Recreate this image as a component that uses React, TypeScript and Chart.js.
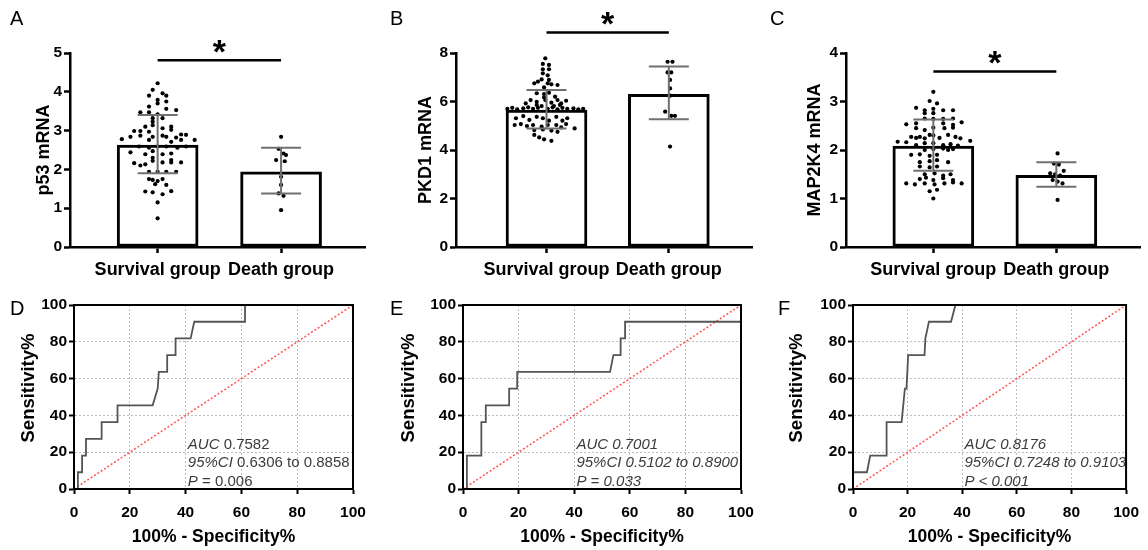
import React, { useEffect, useRef } from 'react';
import { Chart, registerables } from 'chart.js';

Chart.register(...registerables);

const FONT = "Arial, 'Liberation Sans', Helvetica, sans-serif";

const groupLabels = ['Survival group', 'Death group'];

// ---------- Panel A : p53 ----------
const p53Mean = [2.63, 1.94];
const p53SdLow = [1.9, 1.38];
const p53SdHigh = [3.4, 2.56];
const p53Survival = [4.22, 4.05, 3.96, 3.9, 3.9, 3.79, 3.7, 3.75, 3.62, 3.56, 3.53, 3.47, 3.47, 3.42, 3.32, 3.23, 3.14, 3.32, 3.1, 3.02, 3.1, 2.99, 2.99, 3.06, 2.97, 2.84, 2.87, 2.84, 2.87, 2.84, 2.82, 2.9, 2.89, 2.78, 2.76, 2.76, 2.71, 2.76, 2.59, 2.56, 2.59, 2.59, 2.56, 2.59, 2.44, 2.39, 2.47, 2.3, 2.22, 2.39, 2.41, 2.24, 2.18, 2.18, 2.16, 2.1, 2.13, 2.18, 1.94, 1.94, 1.94, 1.94, 1.75, 1.73, 1.7, 1.75, 1.6, 1.62, 1.43, 1.41, 1.36, 1.44, 1.15, 0.74];
const p53SurvivalJitter = [0, -0.04, 0.04, 0.07, -0.07, 0, 0, 0.07, -0.07, 0.07, 0.15, -0.14, -0.07, 0, -0.04, -0.04, -0.04, 0.04, 0.11, 0.11, -0.1, -0.19, -0.14, 0.04, -0.07, -0.22, -0.14, -0.04, 0.04, 0.07, 0.15, 0.19, 0.23, -0.29, 0.3, -0.07, 0.11, 0.19, -0.15, -0.07, 0, 0.07, 0.16, 0.23, -0.22, -0.1, -0.04, -0.04, -0.04, 0.04, 0.11, 0.11, 0.11, 0.19, -0.19, -0.14, -0.1, 0.04, -0.07, 0, 0.07, 0.15, -0.07, -0.04, 0, 0.04, 0.07, -0.02, -0.1, -0.04, 0.04, 0.11, 0, 0];
const p53Death = [2.84, 2.53, 2.41, 2.37, 2.24, 2.21, 1.81, 1.6, 1.38, 1.32, 0.95];
const p53DeathJitter = [0, -0.02, 0.02, 0.04, -0.04, 0.03, 0, 0, -0.02, 0.02, 0];
const p53Sig = 4.81;

// ---------- Panel B : PKD1 ----------
const pkd1Mean = [5.65, 6.3];
const pkd1SdLow = [4.89, 5.27];
const pkd1SdHigh = [6.47, 7.44];
const pkd1Survival = [7.78, 7.55, 7.51, 7.33, 7.33, 7.16, 7.08, 6.91, 6.89, 6.75, 6.82, 6.75, 6.71, 6.68, 6.58, 6.34, 6.31, 6.36, 6.2, 6.17, 6.06, 5.99, 6.06, 5.95, 6.06, 5.92, 6.03, 5.92, 5.86, 5.81, 5.81, 5.86, 5.7, 5.74, 5.68, 5.72, 5.76, 5.7, 5.74, 5.7, 5.76, 5.68, 5.74, 5.7, 5.72, 5.68, 5.7, 5.31, 5.4, 5.24, 5.37, 5.31, 5.21, 5.37, 5.21, 5.31, 5.03, 5.07, 4.99, 5.03, 4.96, 5.03, 5.03, 4.93, 5.07, 4.89, 4.82, 4.85, 4.8, 4.75, 4.62, 4.52, 4.44, 4.38];
const pkd1SurvivalJitter = [-0.01, -0.03, 0.02, -0.03, 0.02, -0.03, 0.01, -0.04, 0.02, -0.1, -0.07, 0.01, 0.04, 0.09, -0.02, -0.08, -0.02, 0.02, 0.07, -0.02, -0.13, -0.08, -0.01, 0.04, 0.09, 0.12, 0.16, -0.17, -0.08, -0.04, 0.06, 0.11, -0.32, -0.28, -0.24, -0.19, -0.15, -0.11, -0.07, 0.01, 0.05, 0.09, 0.13, 0.17, 0.22, 0.26, 0.3, -0.25, -0.19, -0.14, -0.08, -0.03, 0.02, 0.08, 0.13, 0.17, -0.26, -0.21, -0.16, -0.11, -0.04, 0.01, 0.08, 0.12, 0.16, 0.23, -0.1, -0.03, 0.04, 0.09, -0.1, -0.06, -0.02, 0.04];
const pkd1Death = [7.64, 7.64, 7.2, 7.2, 6.89, 6.54, 6.24, 5.58, 5.41, 5.41, 4.14];
const pkd1DeathJitter = [-0.01, 0.03, -0.01, 0.02, 0.01, 0.01, 0.01, -0.03, 0.02, 0.05, 0.01];
const pkd1Sig = 8.85;

// ---------- Panel C : MAP2K4 ----------
const map2k4Mean = [2.08, 1.48];
const map2k4SdLow = [1.57, 1.24];
const map2k4SdHigh = [2.63, 1.75];
const map2k4Survival = [3.2, 3.01, 2.96, 2.87, 2.82, 2.85, 2.82, 2.82, 2.76, 2.76, 2.65, 2.64, 2.64, 2.65, 2.53, 2.55, 2.55, 2.52, 2.57, 2.45, 2.41, 2.46, 2.45, 2.46, 2.27, 2.25, 2.27, 2.24, 2.31, 2.3, 2.25, 2.31, 2.27, 2.24, 2.17, 2.16, 2.1, 2.14, 2.14, 2.1, 2.12, 2.09, 2.19, 2.0, 2.02, 2.03, 2.0, 2.02, 1.9, 1.91, 1.88, 1.9, 1.75, 1.77, 1.79, 1.75, 1.66, 1.64, 1.66, 1.5, 1.52, 1.47, 1.5, 1.4, 1.43, 1.38, 1.42, 1.38, 1.31, 1.29, 1.31, 1.29, 1.31, 1.33, 1.31, 1.15, 1.18, 1.0];
const map2k4SurvivalJitter = [0, -0.03, 0.03, -0.14, -0.07, 0, 0.08, 0.16, -0.07, 0, -0.07, 0, 0.08, 0.16, -0.22, -0.14, 0.08, 0.16, 0.23, -0.14, -0.07, 0, 0.09, 0.16, -0.18, -0.14, -0.11, -0.07, -0.03, 0, 0.05, 0.12, 0.18, 0.22, -0.29, -0.22, -0.14, -0.07, 0, 0.08, 0.14, 0.2, 0.3, -0.07, 0, 0.08, 0.12, 0.16, -0.18, -0.11, -0.03, 0.03, -0.11, -0.03, 0.03, 0.12, -0.11, -0.03, 0.03, -0.07, 0.01, 0.08, 0.14, -0.11, -0.06, 0, 0.08, 0.16, -0.22, -0.15, -0.07, 0.01, 0.09, 0.16, 0.23, -0.03, 0.03, 0];
const map2k4Death = [1.93, 1.72, 1.7, 1.57, 1.52, 1.5, 1.47, 1.38, 1.35, 1.31, 0.97];
const map2k4DeathJitter = [0.01, -0.02, 0.02, 0.06, -0.05, -0.01, 0.03, -0.03, 0.01, 0.05, 0.01];
const map2k4Sig = 3.62;

// ---------- ROC curves ----------
const rocTicks = [0, 20, 40, 60, 80, 100];
const rocDX = [0, 1.4, 1.4, 2.9, 2.9, 4.3, 4.3, 9.9, 9.9, 15.6, 15.6, 28.2, 30.0, 30.4, 33.4, 33.4, 36.4, 36.4, 41.8, 43.1, 61.3, 61.3, 100];
const rocDY = [0, 0, 9.09, 9.09, 18.18, 18.18, 27.27, 27.27, 36.36, 36.36, 45.45, 45.45, 54.55, 63.64, 63.64, 72.73, 72.73, 81.82, 81.82, 90.91, 90.91, 100, 100];
const rocEX = [0, 1.4, 1.4, 6.6, 6.6, 8.2, 8.2, 16.6, 16.6, 19.5, 19.5, 52.9, 54.1, 56.7, 56.7, 58.3, 58.3, 100];
const rocEY = [0, 0, 18.18, 18.18, 36.36, 36.36, 45.45, 45.45, 54.55, 54.55, 63.64, 63.64, 72.73, 72.73, 81.82, 81.82, 90.91, 90.91];
const rocFX = [0, 0, 5.1, 6.3, 12.3, 12.3, 17.8, 19.0, 19.6, 20.2, 26.2, 26.5, 27.8, 35.9, 37.5, 100];
const rocFY = [0, 9.09, 9.09, 18.18, 18.18, 36.36, 36.36, 54.55, 54.55, 72.73, 72.73, 81.82, 90.91, 90.91, 100, 100];

const rocDText = [['AUC', ' 0.7582'], ['95%CI', ' 0.6306 to 0.8858'], ['P', ' = 0.006']];
const rocEText = [['AUC', ' 0.7001'], ['95%CI', ' 0.5102 to 0.8900'], ['P', ' = 0.033']];
const rocFText = [['AUC', ' 0.8176'], ['95%CI', ' 0.7248 to 0.9103'], ['P', ' < 0.001']];
const rocTextRows = [24.1, 14.0, 4.0];

const barPanels = [
  {
    letter: 'A', letterX: 10, letterY: 25,
    left: 0, top: 0, width: 380, height: 285,
    area: { l: 70, t: 53, r: 365, b: 247 }, xMin: 0.29, xMax: 2.68,
    yMax: 5, yStep: 1, yTitle: 'p53 mRNA', titleX: 44,
    means: p53Mean, sdLow: p53SdLow, sdHigh: p53SdHigh,
    survival: p53Survival, survivalJitter: p53SurvivalJitter, death: p53Death, deathJitter: p53DeathJitter,
    sig: p53Sig,
  },
  {
    letter: 'B', letterX: 10, letterY: 25,
    left: 380, top: 0, width: 380, height: 285,
    area: { l: 456, t: 53, r: 752, b: 247 }, xMin: 0.26, xMax: 2.68,
    yMax: 8, yStep: 2, yTitle: 'PKD1 mRNA', titleX: 426,
    means: pkd1Mean, sdLow: pkd1SdLow, sdHigh: pkd1SdHigh,
    survival: pkd1Survival, survivalJitter: pkd1SurvivalJitter, death: pkd1Death, deathJitter: pkd1DeathJitter,
    sig: pkd1Sig,
  },
  {
    letter: 'C', letterX: 10, letterY: 25,
    left: 760, top: 0, width: 388, height: 285,
    area: { l: 846, t: 53, r: 1140, b: 247 }, xMin: 0.29, xMax: 2.68,
    yMax: 4, yStep: 1, yTitle: 'MAP2K4 mRNA', titleX: 815,
    means: map2k4Mean, sdLow: map2k4SdLow, sdHigh: map2k4SdHigh,
    survival: map2k4Survival, survivalJitter: map2k4SurvivalJitter, death: map2k4Death, deathJitter: map2k4DeathJitter,
    sig: map2k4Sig,
  },
];

const rocPanels = [
  { letter: 'D', letterX: 10, letterY: 35, left: 0, top: 280, width: 380, height: 270, area: { l: 74, t: 305, r: 353, b: 489 }, titleX: 29, titleY: 388, xs: rocDX, ys: rocDY, text: rocDText, allItalic: false },
  { letter: 'E', letterX: 10, letterY: 35, left: 380, top: 280, width: 390, height: 270, area: { l: 463, t: 305, r: 741, b: 489 }, titleX: 409, titleY: 388, xs: rocEX, ys: rocEY, text: rocEText, allItalic: true },
  { letter: 'F', letterX: 18, letterY: 35, left: 760, top: 280, width: 388, height: 270, area: { l: 853, t: 305, r: 1128, b: 489 }, titleX: 797, titleY: 388, xs: rocFX, ys: rocFY, text: rocFText, allItalic: true },
];

function BarPanel({ spec }: { spec: any }) {
  const ref = useRef<HTMLCanvasElement | null>(null);
  useEffect(() => {
    const s = spec;
    const W = s.area.l - s.left;
    const H = s.top + s.height - s.area.b;
    const yTitleSize = 18;
    const dots = [
      ...s.survival.map((v: number, i: number) => ({ x: 1 + s.survivalJitter[i], y: v })),
      ...s.death.map((v: number, i: number) => ({ x: 2 + s.deathJitter[i], y: v })),
    ];
    const extras = {
      id: 'barExtras',
      afterDatasetsDraw(chart: any) {
        const { ctx, scales } = chart;
        const x = scales.x;
        const y = scales.y;
        ctx.save();
        ctx.strokeStyle = '#707070';
        ctx.lineWidth = 2;
        s.means.forEach((_m: number, i: number) => {
          const px = x.getPixelForValue(i + 1);
          const top = y.getPixelForValue(s.sdHigh[i]);
          const bot = y.getPixelForValue(s.sdLow[i]);
          ctx.beginPath();
          ctx.moveTo(px, top);
          ctx.lineTo(px, bot);
          ctx.moveTo(px - 20, top);
          ctx.lineTo(px + 20, top);
          ctx.moveTo(px - 20, bot);
          ctx.lineTo(px + 20, bot);
          ctx.stroke();
        });
        const sy = y.getPixelForValue(s.sig);
        const x1 = x.getPixelForValue(1);
        const x2 = x.getPixelForValue(2);
        ctx.strokeStyle = '#000';
        ctx.lineWidth = 2.5;
        ctx.beginPath();
        ctx.moveTo(x1, sy);
        ctx.lineTo(x2, sy);
        ctx.stroke();
        ctx.fillStyle = '#000';
        ctx.font = `bold 34px ${FONT}`;
        ctx.textAlign = 'center';
        ctx.textBaseline = 'alphabetic';
        ctx.fillText('*', (x1 + x2) / 2, sy - 15 + 17.5);
        ctx.restore();
      },
      afterDraw(chart: any) {
        const { ctx } = chart;
        ctx.save();
        ctx.fillStyle = '#000';
        ctx.font = `20px ${FONT}`;
        ctx.textAlign = 'left';
        ctx.textBaseline = 'alphabetic';
        ctx.fillText(s.letter, s.letterX, s.letterY);
        ctx.restore();
      },
    };
    const chart = new Chart(ref.current as HTMLCanvasElement, {
      type: 'bar',
      data: {
        datasets: [
          {
            type: 'scatter',
            data: dots,
            backgroundColor: '#000',
            borderColor: '#000',
            borderWidth: 0,
            pointRadius: 2.1,
            order: 1,
          } as any,
          {
            type: 'bar',
            data: s.means.map((m: number, i: number) => ({ x: i + 1, y: m })),
            backgroundColor: '#fff',
            borderColor: '#000',
            borderWidth: 3,
            borderSkipped: false,
            barThickness: 81,
            order: 2,
          } as any,
        ],
      },
      options: {
        animation: false,
        responsive: false,
        devicePixelRatio: 1,
        events: [],
        layout: { padding: { left: 0, top: s.area.t - s.top, right: s.left + s.width - s.area.r, bottom: 0 } },
        plugins: { legend: { display: false }, tooltip: { enabled: false } },
        scales: {
          x: {
            type: 'linear',
            min: s.xMin,
            max: s.xMax,
            offset: false,
            afterBuildTicks: (axis: any) => {
              axis.ticks = [{ value: 1 }, { value: 2 }];
            },
            afterFit: (axis: any) => {
              axis.height = H;
            },
            ticks: {
              callback: (v: any) => groupLabels[Math.round(v) - 1] ?? '',
              autoSkip: false,
              maxRotation: 0,
              minRotation: 0,
              padding: 6.5,
              color: '#000',
              font: { family: FONT, size: 18, weight: 'bold' },
            },
            grid: { offset: false, drawOnChartArea: false, tickLength: 6, tickWidth: 2.5, tickColor: '#000' },
            border: { color: '#000', width: 2.5 },
          },
          y: {
            type: 'linear',
            min: 0,
            max: s.yMax,
            afterFit: (axis: any) => {
              axis.width = W;
            },
            ticks: {
              stepSize: s.yStep,
              padding: 2,
              color: '#000',
              font: { family: FONT, size: 15.5, weight: 'bold' },
            },
            grid: { drawOnChartArea: false, tickLength: 6, tickWidth: 2.5, tickColor: '#000' },
            border: { color: '#000', width: 2.5 },
            title: {
              display: true,
              text: s.yTitle,
              color: '#000',
              font: { family: FONT, size: yTitleSize, weight: 'bold' },
              padding: { top: s.titleX - s.left - (yTitleSize * 1.2) / 2, bottom: 0 },
            },
          },
        },
      } as any,
      plugins: [extras],
    });
    return () => chart.destroy();
  }, [spec]);
  return (
    <canvas
      ref={ref}
      width={spec.width}
      height={spec.height}
      style={{ position: 'absolute', left: spec.left, top: spec.top, width: spec.width, height: spec.height }}
    />
  );
}

function RocPanel({ spec }: { spec: any }) {
  const ref = useRef<HTMLCanvasElement | null>(null);
  useEffect(() => {
    const s = spec;
    const W = s.area.l - s.left;
    const H = s.top + s.height - s.area.b;
    const yTitleSize = 18.5;
    const xTitleSize = 17.5;
    const curve = s.xs.map((x: number, i: number) => ({ x, y: s.ys[i] }));
    const extras = {
      id: 'rocExtras',
      afterDatasetsDraw(chart: any) {
        const { ctx, scales, chartArea } = chart;
        const x = scales.x;
        const y = scales.y;
        ctx.save();
        ctx.fillStyle = '#3c3c3c';
        ctx.textAlign = 'left';
        ctx.textBaseline = 'middle';
        const tx = x.getPixelForValue(40.8);
        s.text.forEach((parts: string[], r: number) => {
          const ty = y.getPixelForValue(rocTextRows[r]);
          ctx.font = `italic 15px ${FONT}`;
          ctx.fillText(parts[0], tx, ty);
          const w = ctx.measureText(parts[0]).width;
          ctx.font = `${s.allItalic ? 'italic ' : ''}15px ${FONT}`;
          ctx.fillText(parts[1], tx + w, ty);
        });
        ctx.strokeStyle = '#000';
        ctx.lineWidth = 2;
        ctx.strokeRect(chartArea.left, chartArea.top, chartArea.right - chartArea.left, chartArea.bottom - chartArea.top);
        ctx.restore();
      },
      afterDraw(chart: any) {
        const { ctx } = chart;
        ctx.save();
        ctx.fillStyle = '#000';
        ctx.font = `20px ${FONT}`;
        ctx.textAlign = 'left';
        ctx.textBaseline = 'alphabetic';
        ctx.fillText(s.letter, s.letterX, s.letterY);
        // y-axis title
        ctx.translate(s.titleX - s.left, s.titleY - s.top);
        ctx.rotate(-Math.PI / 2);
        ctx.font = `bold ${yTitleSize}px ${FONT}`;
        ctx.textAlign = 'center';
        ctx.textBaseline = 'middle';
        ctx.fillText('Sensitivity%', 0, 0);
        ctx.restore();
      },
    };
    const axisCommon = {
      type: 'linear',
      min: 0,
      max: 100,
      afterBuildTicks: (axis: any) => {
        axis.ticks = rocTicks.map((v) => ({ value: v }));
      },
      grid: { color: '#bdbdbd', lineWidth: 1, tickLength: 5, tickWidth: 2, tickColor: '#000' },
      border: { color: '#000', width: 2, dash: [2, 2] },
    };
    const chart = new Chart(ref.current as HTMLCanvasElement, {
      type: 'line',
      data: {
        datasets: [
          {
            data: curve,
            borderColor: '#555555',
            borderWidth: 1.8,
            pointRadius: 0,
            tension: 0,
            fill: false,
            order: 1,
          },
          {
            data: [{ x: 0, y: 0 }, { x: 100, y: 100 }],
            borderColor: '#ff5a5a',
            borderWidth: 1.6,
            borderDash: [2, 2],
            pointRadius: 0,
            tension: 0,
            fill: false,
            order: 2,
          },
        ],
      },
      options: {
        animation: false,
        responsive: false,
        devicePixelRatio: 1,
        events: [],
        layout: { padding: { left: 0, top: s.area.t - s.top, right: s.left + s.width - s.area.r, bottom: 0 } },
        plugins: { legend: { display: false }, tooltip: { enabled: false } },
        scales: {
          x: {
            ...axisCommon,
            afterFit: (axis: any) => {
              axis.height = H;
            },
            ticks: {
              autoSkip: false,
              maxRotation: 0,
              minRotation: 0,
              padding: 9,
              color: '#000',
              font: { family: FONT, size: 15.5, weight: 'bold' },
            },
            title: {
              display: true,
              text: '100% - Specificity%',
              color: '#000',
              font: { family: FONT, size: xTitleSize, weight: 'bold' },
              padding: { top: 0, bottom: 550 - 537 - (xTitleSize * 1.2) / 2 },
            },
          },
          y: {
            ...axisCommon,
            afterFit: (axis: any) => {
              axis.width = W;
            },
            ticks: {
              autoSkip: false,
              padding: 2,
              color: '#000',
              font: { family: FONT, size: 15.5, weight: 'bold' },
            },
          },
        },
      } as any,
      plugins: [extras],
    });
    return () => chart.destroy();
  }, [spec]);
  return (
    <canvas
      ref={ref}
      width={spec.width}
      height={spec.height}
      style={{ position: 'absolute', left: spec.left, top: spec.top, width: spec.width, height: spec.height }}
    />
  );
}

export default function App() {
  return (
    <div style={{ position: 'absolute', left: 0, top: 0, width: 1148, height: 550, background: '#fff', overflow: 'hidden' }}>
      {barPanels.map((p) => (
        <BarPanel key={p.letter} spec={p} />
      ))}
      {rocPanels.map((p) => (
        <RocPanel key={p.letter} spec={p} />
      ))}
    </div>
  );
}
